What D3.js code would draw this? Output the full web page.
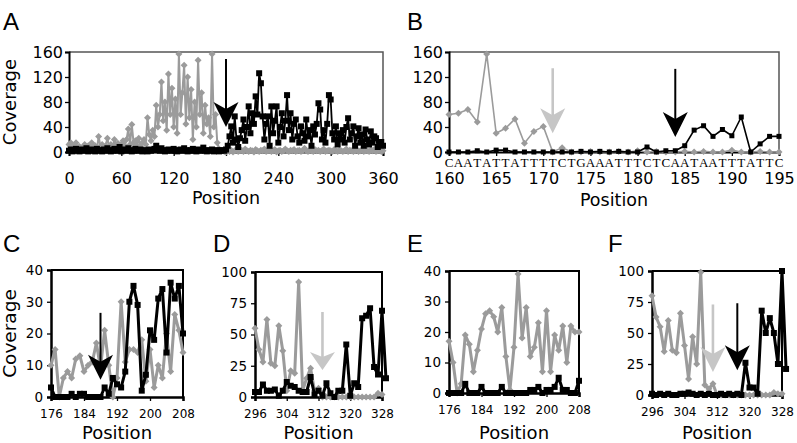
<!DOCTYPE html>
<html><head><meta charset="utf-8">
<script src="https://cdn.jsdelivr.net/npm/d3@7"></script>
<style>body{margin:0;background:#fff}svg{display:block}</style>
</head><body><svg width="797" height="443"></svg>
<script>
// ---------- DATA ----------
// Panel A (positions 0..360, step 2)
const posA = d3.range(0, 361, 2);
const grayA = [12,15,8,10,15,6,9,5,8,12,7,10,6,15,8,10,5,25,9,12,8,10,22,8,12,6,20,10,14,8,12,18,10,20,37,12,44,15,18,10,22,8,15,20,12,55,
  28,18,35,25,75,40,60,112,50,80,35,125,60,102,40,85,30,157,60,95,139,45,120,55,100,20,80,40,147,60,95,30,75,45,55,25,157,40,60,15,5,3,2,1,0,
  2,1,3,0,2,4,1,2,3,1,5,2,1,3,2,0,4,2,1,3,2,5,1,2,3,1,2,4,0,2,3,1,2,5,2,1,3,2,4,1,2,3,1,2,6,2,1,3,2,1,
  4,2,3,1,2,5,1,2,3,2,1,4,2,1,3,2,1,2,5,1,3,2,1,2,4,1,2,3,1,2,2,1,3,2,4,1,2,3,1,2];
const blackA = [2,4,1,3,5,2,1,4,2,3,6,1,2,4,3,1,5,2,3,1,4,2,6,3,1,2,5,3,2,8,1,3,4,2,6,3,1,2,5,3,2,4,1,3,2,1,4,2,3,5,
  10,4,2,6,3,1,2,4,3,2,5,2,1,3,4,2,6,3,1,2,3,5,2,1,4,2,3,7,2,1,3,2,4,1,2,3,1,2,3,2,4,
  10,25,41,15,57,20,8,22,35,52,18,40,73,30,62,45,89,60,126,110,57,20,45,57,10,73,30,50,73,15,
  40,62,25,50,91,35,62,20,45,52,25,15,41,30,18,52,25,35,10,41,28,45,78,68,20,35,15,45,91,84,
  30,20,41,12,30,20,35,15,40,54,20,30,41,10,25,38,15,28,10,36,20,12,33,15,25,22,8,15,16,10];
const xTicksA = [0,60,120,180,240,300,360];
const yTicksAB = [0,40,80,120,160];

// Panel B (positions 160..195)
const posB = d3.range(160, 196);
const grayB = [60,62,68,48,157,30,38,53,14,33,41,0,7,0,0,1,0,0,1,0,2,0,1,0,0,1,0,1,0,0,3,0,0,1,0,0];
const blackB = [0,0,0,2,0,3,3,0,0,0,0,0,0,0,1,0,1,0,1,0,0,8,0,2,2,10,35,42,25,36,26,56,0,13,25,25];
const seqB = "CAATATTATTTTCTGAAATTTCTCAATAATTTATTC".split("");
const xTicksB = [160,165,170,175,180,185,190,195];

// Panels C & E (positions 176..208)
const posCE = d3.range(176, 209);
const grayC = [10,15,0,6,8,6,12,13,8,10,11,17,9,21,10,0,6,30,11,15,15,14,18,5,15,3,10,6,20,8,26,21,14];
const blackC = [3,0,0,0,0,1,0,1,1,0,0,0,0,3,1,6,4,3,8,30,35,29,2,7,21,18,31,34,14,36,31,35,20];
const grayE = [17,10,0,3,19,16,7,14,21,26,27,25,20,28,12,1,15,39,18,28,12,15,23,7,27,7,19,14,22,10,22,20,20];
const blackE = [0,0,0,0,3,0,0,0,2,0,0,0,0,2,0,0,0,0,0,0,1,1,2,0,1,1,2,5,1,1,0,0,4];
const xTicksCE = [176,184,192,200,208];
const yTicksCE = [0,10,20,30,40];

// Panels D & F (gray 296..328, black 296..329)
const posDFgray = d3.range(296, 329);
const posDFblack = d3.range(296, 330);
const grayD = [55,38,28,62,27,25,57,37,5,21,19,92,5,15,23,5,7,0,0,0,0,0,0,0,0,0,0,0,0,0,0,3,2];
const blackD = [4,4,10,5,5,6,1,5,12,9,8,5,4,4,16,2,5,1,11,3,0,5,5,42,1,11,8,63,65,71,24,18,69,15];
const grayF = [80,63,55,35,60,36,34,66,40,13,47,25,99,8,5,9,0,0,0,0,0,0,0,0,0,0,0,0,0,0,2,1,1];
const blackF = [1,0,1,0,1,0,0,1,1,2,1,0,1,0,1,0,0,1,0,1,0,1,0,26,6,6,1,68,50,62,50,25,100,21];
const xTicksDF = [296,304,312,320,328];
const yTicksDF = [0,25,50,75,100];

// Arrows: [position, top value, tip value, colour key]
const arrowsA = [[180,149,40,"black"]];
const arrowsB = [[171,134,30,"light"],[184,133,24,"black"]];
const arrowsC = [[188,26.5,5.4,"black"]];
const arrowsD = [[313,68,21.6,"light"]];
const arrowsF = [[311,73,18.5,"light"],[317,74,20,"black"]];

// ---------- DRAW ----------
const GRAY = "#9b9b9b", LIGHT = "#c6c6c6", BLACK = "#000";
const COL = {black: BLACK, light: LIGHT};
const svg = d3.select("svg");
const SANS = "DejaVu Sans, Verdana, sans-serif";

function diamond(r){ return `M0,${-r}L${r},0L0,${r}L${-r},0Z`; }

function panel(o){
  const x = d3.scaleLinear().domain(o.xDomain).range([o.l, o.r]);
  const y = d3.scaleLinear().domain(o.yDomain).range([o.b, o.t]);
  const g = svg.append("g");
  g.append("path").attr("d", `M${o.l},${o.t}H${o.r}V${o.b}`)
    .attr("fill","none").attr("stroke",o.frameColor).attr("stroke-width",o.frameW);
  const ax = g.append("g").attr("transform",`translate(0,${o.b})`)
    .call(d3.axisBottom(x).tickValues(o.xTicks).tickSize(o.tick).tickPadding(o.xPad).tickFormat(d3.format("d")));
  const ay = g.append("g").attr("transform",`translate(${o.l},0)`)
    .call(d3.axisLeft(y).tickValues(o.yTicks).tickSize(o.tick).tickPadding(o.yPad).tickFormat(d3.format("d")));
  [ax, ay].forEach(a => {
    a.select(".domain").attr("stroke","#000").attr("stroke-width",o.axisW);
    a.selectAll(".tick line").attr("stroke","#000").attr("stroke-width",1.3);
  });
  ax.selectAll("text").attr("font-family",SANS).attr("font-size",o.xFont).attr("fill","#000");
  ay.selectAll("text").attr("font-family",SANS).attr("font-size",o.yFont).attr("fill","#000");

  function series(pos, vals, color, lw, marker){
    const pts = vals.map((v,i)=>[pos[i], v]);
    g.append("path").datum(pts)
      .attr("d", d3.line().x(d=>x(d[0])).y(d=>y(d[1])))
      .attr("fill","none").attr("stroke",color).attr("stroke-width",lw).attr("stroke-linejoin","round");
    const m = g.append("g");
    if (marker.type === "diamond") {
      m.selectAll("path").data(pts).join("path")
        .attr("d", diamond(marker.size))
        .attr("transform", d=>`translate(${x(d[0])},${y(d[1])})`).attr("fill",color);
    } else {
      m.selectAll("rect").data(pts).join("rect")
        .attr("x", d=>x(d[0])-marker.size/2).attr("y", d=>y(d[1])-marker.size/2)
        .attr("width",marker.size).attr("height",marker.size).attr("fill",color);
    }
  }
  series(o.grayPos, o.gray, GRAY, o.lwGray || o.lw, {type:"diamond", size:o.dSize});
  series(o.blackPos, o.black, BLACK, o.lw, {type:"square", size:o.sSize});

  (o.arrows||[]).forEach(a=>{
    const cx = x(a[0]), yt = y(a[1]), yp = y(a[2]);
    const c = COL[a[3]];
    const hw = 12.5, hh = o.headH || 25, notch = hh*0.72;
    g.append("line").attr("x1",cx).attr("x2",cx).attr("y1",yt).attr("y2",yp-notch+2)
      .attr("stroke",c).attr("stroke-width", a[3]==="light"?2.6:2);
    g.append("path").attr("d",`M${cx},${yp}L${cx-hw},${yp-hh}L${cx},${yp-notch}L${cx+hw},${yp-hh}Z`)
      .attr("fill",c);
  });

  svg.append("text").attr("x",o.letterX).attr("y",o.letterY).text(o.letter)
    .attr("font-family","Liberation Sans, Arial, sans-serif").attr("font-size",24).attr("fill","#000");
  if (o.xTitle) svg.append("text").attr("x",(o.l+o.r)/2).attr("y",o.xTitleY).attr("text-anchor","middle")
    .attr("font-family",SANS).attr("font-size",o.xTitleSize).text("Position");
  if (o.yTitle) svg.append("text").attr("transform",`translate(${o.yTitleX},${(o.t+o.b)/2}) rotate(-90)`)
    .attr("text-anchor","middle").attr("font-family",SANS).attr("font-size",o.yTitleSize).text("Coverage");
  return {g, x, y};
}

// Panel A
panel({l:69,r:383,t:52,b:152,xDomain:[0,360],yDomain:[0,160],xTicks:xTicksA,yTicks:yTicksAB,
  tick:4,xPad:17,yPad:2,xFont:16,yFont:16,axisW:2,frameColor:"#555",frameW:1.5,
  grayPos:posA,gray:grayA,blackPos:posA,black:blackA,lw:1.8,lwGray:2,dSize:3.5,sSize:6,arrows:arrowsA,
  letter:"A",letterX:3,letterY:30,xTitle:true,xTitleY:204,xTitleSize:17.5,yTitle:true,yTitleX:16,yTitleSize:18});

// Panel B
const pB = panel({l:449,r:779,t:52,b:152,xDomain:[160,195],yDomain:[0,160],xTicks:xTicksB,yTicks:yTicksAB,
  tick:4,xPad:17,yPad:2,xFont:16,yFont:16,axisW:2,frameColor:"#555",frameW:1.5,
  grayPos:posB,gray:grayB,blackPos:posB,black:blackB,lw:1.6,dSize:3.5,sSize:5,arrows:arrowsB,
  letter:"B",letterX:407,letterY:30,xTitle:true,xTitleY:206,xTitleSize:17.5,yTitle:false});
pB.g.append("g").selectAll("text").data(seqB).join("text")
  .attr("x",(d,i)=>pB.x(posB[i])).attr("y",167).attr("text-anchor","middle")
  .attr("font-family","Liberation Serif, Times New Roman, serif").attr("font-size",13).text(d=>d);

// Bottom row
const bottomCommon = {tick:4,xPad:8,yPad:4,xFont:12,yFont:13.5,axisW:2.5,frameColor:"#000",frameW:2,
  lw:3,dSize:3.5,sSize:6,xTitle:true,xTitleY:439,xTitleSize:18,letterY:252};
panel(Object.assign({}, bottomCommon, {l:51,r:183,t:270,b:397,xDomain:[176,208],yDomain:[0,40],
  xTicks:xTicksCE,yTicks:yTicksCE,grayPos:posCE,gray:grayC,blackPos:posCE,black:blackC,arrows:arrowsC,
  letter:"C",letterX:3,yTitle:true,yTitleX:16,yTitleSize:18.5}));
panel(Object.assign({}, bottomCommon, {l:255,r:382,t:272,b:397,xDomain:[296,328],yDomain:[0,100],
  xTicks:xTicksDF,yTicks:yTicksDF,grayPos:posDFgray,gray:grayD,blackPos:posDFblack,black:blackD,arrows:arrowsD,headH:18,
  letter:"D",letterX:213}));
panel(Object.assign({}, bottomCommon, {l:449,r:579,t:271,b:393,xDomain:[176,208],yDomain:[0,40],
  xTicks:xTicksCE,yTicks:yTicksCE,grayPos:posCE,gray:grayE,blackPos:posCE,black:blackE,arrows:[],
  letter:"E",letterX:407}));
panel(Object.assign({}, bottomCommon, {l:652,r:782,t:271,b:395,xDomain:[296,328],yDomain:[0,100],
  xTicks:xTicksDF,yTicks:yTicksDF,grayPos:posDFgray,gray:grayF,blackPos:posDFblack,black:blackF,arrows:arrowsF,
  letter:"F",letterX:608}));
</script>
</body></html>
